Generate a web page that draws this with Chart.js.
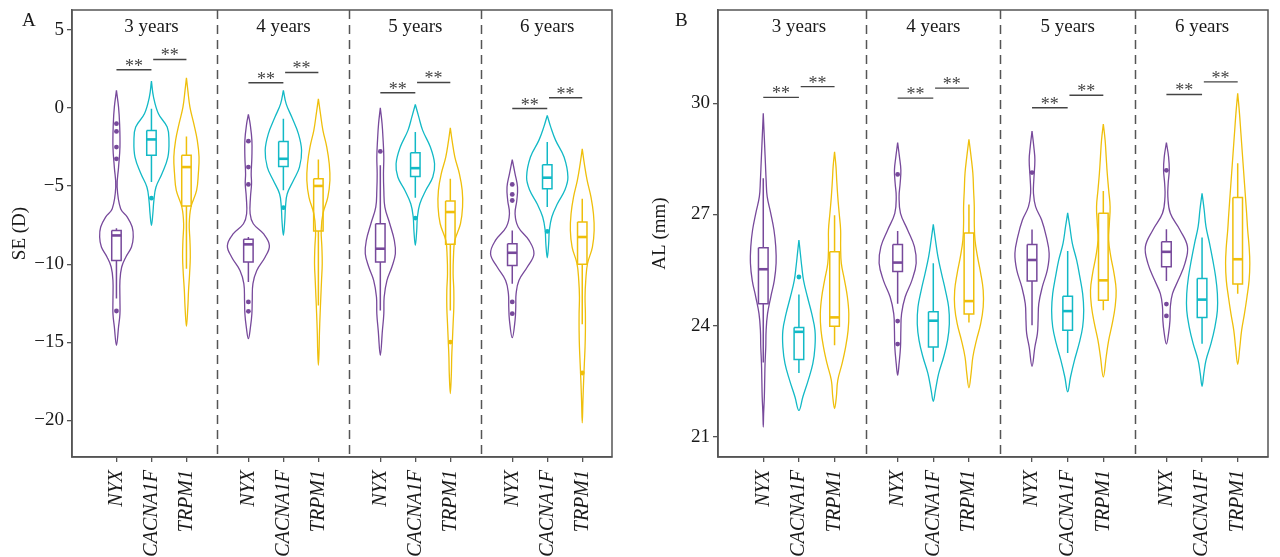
<!DOCTYPE html>
<html>
<head>
<meta charset="utf-8">
<script src="https://cdn.jsdelivr.net/npm/chart.js@4.4.1/dist/chart.umd.min.js"></script>
<style>
  html, body { margin: 0; padding: 0; background: #fff; }
  #wrap { position: relative; width: 1280px; height: 557px; }
  .panel { position: absolute; top: 0; width: 640px; height: 557px; }
</style>
</head>
<body>
<div id="wrap">
  <div class="panel" style="left:0"><canvas id="chartA" width="640" height="557"></canvas></div>
  <div class="panel" style="left:640px"><canvas id="chartB" width="640" height="557"></canvas></div>
</div>
<script>
// categorias
const genes = ['NYX', 'CACNA1F', 'TRPM1'];
const ages = ['3 years', '4 years', '5 years', '6 years'];

// ---- Panel A: SE (D) ---- orden: 3y NYX, CACNA1F, TRPM1, 4y NYX ...
const seTicks = [5, 0, -5, -10, -15, -20];
const seTop = [1.13, 1.72, 1.94, -0.41, 1.13, 0.59, 0.02, 0.23, -1.26, -3.31, -0.47, -2.61];
const seBottom = [-15.2, -7.52, -13.98, -14.77, -8.16, -16.48, -15.84, -8.8, -18.29, -14.71, -9.59, -20.17];
const seDensY = [
  [0.06, -1.0, -2.5, -3.8, -5.06, -6.45, -6.98, -7.62, -8.26, -8.9, -9.54, -10.18, -11.04, -12.32, -13.17, -14.02],
  [0.70, -0.37, -1.22, -2.07, -3.14, -4.21, -5.06, -5.92, -6.77],
  [1.13, 0.06, -1.0, -2.07, -3.14, -4.21, -5.27, -6.34, -7.41, -8.48, -9.54, -10.61, -11.68, -12.74],
  [-1.01, -2.07, -3.14, -4.21, -4.85, -5.70, -6.77, -7.41, -8.05, -8.8, -9.54, -10.4, -11.25, -12.32, -13.17, -14.02],
  [0.27, -0.58, -1.65, -2.71, -3.78, -4.63, -5.49, -6.34, -7.2],
  [-0.37, -1.43, -2.5, -3.57, -4.63, -5.70, -6.77, -7.84, -8.9, -9.97, -11.04, -12.1, -13.17, -14.45, -15.52],
  [-1.01, -2.07, -3.14, -4.21, -5.27, -6.34, -7.41, -8.48, -9.33, -10.18, -11.04, -12.1, -13.17, -14.24],
  [-0.58, -1.43, -2.5, -3.57, -4.42, -5.27, -6.13, -6.98, -7.84],
  [-2.07, -3.14, -4.21, -5.27, -6.34, -7.41, -8.48, -9.54, -10.61, -11.68, -12.74, -13.81, -14.88, -15.95, -17.01],
  [-4.21, -5.06, -5.92, -6.77, -7.62, -8.48, -9.33, -10.18, -11.04, -11.89, -12.74, -13.6],
  [-1.22, -2.07, -3.14, -4.42, -5.27, -6.13, -6.98, -7.84, -8.69],
  [-3.57, -4.63, -5.70, -6.77, -7.84, -8.9, -9.97, -11.04, -12.1, -13.17, -14.24, -15.31, -16.37, -17.44, -18.72]
];
const seDensW = [
  [0.06, 0.09, 0.1, 0.06, 0.02, 0.12, 0.31, 0.45, 0.48, 0.43, 0.27, 0.15, 0.1, 0.1, 0.1, 0.06],
  [0.06, 0.2, 0.45, 0.5, 0.47, 0.3, 0.13, 0.07, 0.04],
  [0.04, 0.1, 0.21, 0.31, 0.36, 0.34, 0.29, 0.13, 0.08, 0.1, 0.11, 0.09, 0.06, 0.04],
  [0.05, 0.1, 0.1, 0.08, 0.09, 0.06, 0.05, 0.14, 0.43, 0.6, 0.48, 0.24, 0.13, 0.11, 0.1, 0.06],
  [0.08, 0.24, 0.43, 0.52, 0.46, 0.29, 0.11, 0.06, 0.04],
  [0.06, 0.13, 0.24, 0.31, 0.33, 0.27, 0.13, 0.08, 0.1, 0.11, 0.09, 0.07, 0.05, 0.03, 0.02],
  [0.05, 0.08, 0.1, 0.09, 0.1, 0.13, 0.27, 0.4, 0.43, 0.33, 0.19, 0.11, 0.1, 0.06],
  [0.1, 0.21, 0.43, 0.55, 0.5, 0.3, 0.13, 0.06, 0.04],
  [0.05, 0.13, 0.26, 0.34, 0.35, 0.29, 0.13, 0.09, 0.08, 0.1, 0.1, 0.08, 0.06, 0.04, 0.03],
  [0.08, 0.15, 0.13, 0.08, 0.17, 0.48, 0.62, 0.43, 0.19, 0.11, 0.1, 0.08],
  [0.1, 0.24, 0.48, 0.59, 0.5, 0.29, 0.13, 0.06, 0.04],
  [0.06, 0.14, 0.25, 0.32, 0.34, 0.29, 0.15, 0.1, 0.08, 0.09, 0.09, 0.08, 0.06, 0.04, 0.02]
];
const seLo  = [-12.2, -4.74, -10.29, -11.14, -5.27, -12.64, -12.96, -5.74, -12.96, -11.25, -6.34, -13.85];
const seQ1  = [-9.76, -3.03, -6.28, -9.86, -3.74, -7.88, -9.86, -4.38, -8.73, -10.08, -5.17, -10.01];
const seMed = [-8.16, -2.01, -3.78, -8.73, -3.25, -4.99, -9.01, -3.85, -6.66, -9.27, -4.46, -8.26];
const seQ3  = [-7.84, -1.43, -3.03, -8.41, -2.14, -4.53, -7.41, -2.86, -5.96, -8.69, -3.63, -7.3];
const seHi  = [-7.7, -0.05, -1.82, -8.26, -0.69, -3.29, -3.67, -1.54, -4.53, -7.84, -2.18, -5.81];
const seOut = [
  [-1.0, -1.5, -2.5, -3.25, -13.0], [-5.77], [],
  [-2.12, -3.78, -4.89, -12.42, -13.02], [-6.38], [],
  [-2.78], [-7.05], [-14.99],
  [-4.89, -5.53, -5.92, -12.42, -13.17], [-7.9], [-16.97]
];
const seStar1 = [2.45, 1.62, 0.98, -0.03];
const seStar2 = [3.11, 2.28, 1.64, 0.66];

// ---- Panel B: AL (mm) ----
const alTicks = [30, 27, 24, 21];
const alTop = [29.73, 26.31, 28.69, 28.94, 26.73, 29.03, 29.25, 27.04, 29.44, 28.94, 27.57, 30.27];
const alBottom = [21.26, 21.71, 21.76, 22.66, 21.95, 22.32, 22.9, 22.21, 22.61, 23.5, 22.36, 22.95];
const alDensY = [
  [29.28, 28.83, 28.38, 27.93, 27.48, 27.03, 26.58, 26.13, 25.68, 25.22, 24.77, 24.32, 23.87, 23.42, 22.97, 22.52, 22.07, 21.62],
  [25.95, 25.59, 25.22, 24.77, 24.32, 23.87, 23.42, 22.97, 22.52, 22.07],
  [28.29, 27.93, 27.48, 27.03, 26.58, 26.13, 25.68, 25.22, 24.77, 24.32, 23.87, 23.42, 22.97, 22.52, 22.07],
  [28.56, 28.2, 27.84, 27.48, 27.03, 26.58, 26.13, 25.68, 25.22, 24.77, 24.32, 23.87, 23.42, 22.97],
  [26.31, 25.86, 25.41, 24.95, 24.5, 24.05, 23.6, 23.15, 22.7, 22.25],
  [28.56, 28.11, 27.66, 27.21, 26.76, 26.31, 25.86, 25.41, 24.95, 24.5, 24.05, 23.6, 23.15, 22.7],
  [28.83, 28.47, 27.93, 27.57, 27.21, 26.85, 26.4, 25.95, 25.5, 25.05, 24.59, 24.14, 23.78, 23.42],
  [26.67, 26.22, 25.77, 25.32, 24.86, 24.41, 23.96, 23.51, 23.06, 22.61],
  [29.01, 28.56, 28.11, 27.66, 27.21, 26.76, 26.31, 25.86, 25.41, 24.95, 24.5, 24.05, 23.6, 23.15],
  [28.56, 28.2, 27.84, 27.48, 27.03, 26.58, 26.13, 25.68, 25.22, 24.86, 24.5, 24.14, 23.78],
  [27.12, 26.67, 26.22, 25.77, 25.32, 24.86, 24.41, 23.96, 23.51, 23.06, 22.7],
  [29.73, 29.19, 28.65, 28.11, 27.57, 27.03, 26.58, 26.13, 25.68, 25.22, 24.77, 24.32, 23.87, 23.42]
];
const alDensW = [
  [0.02, 0.04, 0.06, 0.08, 0.11, 0.21, 0.3, 0.35, 0.36, 0.31, 0.21, 0.12, 0.08, 0.07, 0.05, 0.04, 0.03, 0.01],
  [0.04, 0.08, 0.13, 0.24, 0.36, 0.45, 0.45, 0.39, 0.26, 0.11],
  [0.04, 0.06, 0.09, 0.13, 0.17, 0.17, 0.19, 0.28, 0.36, 0.4, 0.38, 0.31, 0.21, 0.09, 0.05],
  [0.05, 0.09, 0.07, 0.04, 0.08, 0.28, 0.47, 0.52, 0.4, 0.21, 0.11, 0.09, 0.08, 0.04],
  [0.06, 0.13, 0.23, 0.34, 0.43, 0.45, 0.4, 0.29, 0.15, 0.06],
  [0.06, 0.11, 0.13, 0.15, 0.15, 0.17, 0.24, 0.33, 0.4, 0.4, 0.33, 0.21, 0.11, 0.06],
  [0.05, 0.08, 0.05, 0.04, 0.1, 0.27, 0.4, 0.48, 0.43, 0.29, 0.19, 0.17, 0.15, 0.08],
  [0.06, 0.13, 0.25, 0.34, 0.42, 0.45, 0.42, 0.32, 0.19, 0.08],
  [0.05, 0.08, 0.11, 0.15, 0.19, 0.17, 0.15, 0.21, 0.3, 0.36, 0.33, 0.25, 0.15, 0.08],
  [0.06, 0.08, 0.05, 0.04, 0.11, 0.38, 0.59, 0.52, 0.33, 0.17, 0.11, 0.1, 0.06],
  [0.06, 0.11, 0.21, 0.3, 0.38, 0.43, 0.43, 0.36, 0.25, 0.11, 0.05],
  [0.05, 0.09, 0.13, 0.17, 0.21, 0.25, 0.28, 0.32, 0.34, 0.32, 0.26, 0.19, 0.11, 0.06]
];
const alLo  = [23.0, 22.72, 23.47, 24.59, 23.02, 24.08, 24.01, 23.26, 24.41, 25.2, 23.51, 24.86];
const alQ1  = [24.59, 23.08, 23.98, 25.46, 23.42, 24.31, 25.2, 23.87, 24.68, 25.59, 24.22, 25.12];
const alMed = [25.52, 23.83, 24.22, 25.7, 24.13, 24.66, 25.77, 24.39, 25.22, 25.99, 24.7, 25.79];
const alQ3  = [26.1, 23.95, 25.99, 26.19, 24.37, 26.5, 26.19, 24.79, 27.03, 26.26, 25.27, 27.46];
const alHi  = [27.98, 24.84, 26.98, 26.55, 25.68, 27.27, 26.59, 26.01, 27.63, 26.6, 26.38, 28.38];
const alOut = [
  [], [25.31], [],
  [28.08, 24.12, 23.5], [], [],
  [28.13], [], [],
  [28.19, 24.58, 24.26], [], []
];
const alStar1 = [30.16, 30.14, 29.88, 30.24];
const alStar2 = [30.45, 30.41, 30.22, 30.58];

// estilo / disposición
const colors = ['#77499b', '#12b9c6', '#efbf0b'];
const FONT = '"Liberation Serif", "Times New Roman", serif';
const GROUP_STEP = 3.77;
const BOX_HALF = 0.135;
const xPos = i => Math.floor(i / 3) * GROUP_STEP + (i % 3);

function buildDatasets(d) {
  const sets = [];
  for (let i = 0; i < 12; i++) {
    const c = xPos(i), col = colors[i % 3];
    const ys = d.densY[i], ws = d.densW[i];
    // contorno del violín: bajando por la derecha, subiendo por la izquierda
    const outline = [{ x: c, y: d.top[i] }];
    ys.forEach((y, k) => outline.push({ x: c + ws[k], y: y }));
    outline.push({ x: c, y: d.bottom[i] });
    for (let k = ys.length - 1; k >= 0; k--) outline.push({ x: c - ws[k], y: ys[k] });
    outline.push({ x: c, y: d.top[i] });
    sets.push({ data: outline, borderColor: col, borderWidth: 1.3, tension: 0.4 });

    // caja + bigotes
    sets.push({
      data: [
        { x: c, y: d.hi[i] }, { x: c, y: d.q3[i] }, { x: c, y: null },
        { x: c - BOX_HALF, y: d.q3[i] }, { x: c + BOX_HALF, y: d.q3[i] },
        { x: c + BOX_HALF, y: d.q1[i] }, { x: c - BOX_HALF, y: d.q1[i] },
        { x: c - BOX_HALF, y: d.q3[i] }, { x: c, y: null },
        { x: c, y: d.q1[i] }, { x: c, y: d.lo[i] }
      ],
      borderColor: col, borderWidth: 1.5, tension: 0
    });
    // mediana
    sets.push({
      data: [{ x: c - BOX_HALF, y: d.med[i] }, { x: c + BOX_HALF, y: d.med[i] }],
      borderColor: col, borderWidth: 2.6, tension: 0
    });
    // atípicos
    if (d.out[i].length) {
      sets.push({
        data: d.out[i].map(y => ({ x: c, y: y })),
        showLine: false, pointRadius: 2.4, pointBackgroundColor: col,
        pointBorderWidth: 0, borderColor: col
      });
    }
  }
  // líneas de significancia
  for (let g = 0; g < 4; g++) {
    const c0 = xPos(g * 3);
    sets.push({ data: [{ x: c0, y: d.star1[g] }, { x: c0 + 1, y: d.star1[g] }], borderColor: '#444', borderWidth: 1.4, tension: 0 });
    sets.push({ data: [{ x: c0 + 1.05, y: d.star2[g] }, { x: c0 + 2, y: d.star2[g] }], borderColor: '#444', borderWidth: 1.4, tension: 0 });
  }
  return sets;
}

const deco = {
  id: 'deco',
  afterDraw(chart, args, opts) {
    const { ctx, chartArea: a, scales: { x, y } } = chart;
    ctx.save();
    ctx.strokeStyle = '#555';
    ctx.lineWidth = 1.5;
    ctx.strokeRect(a.left, a.top, a.right - a.left, a.bottom - a.top);
    // separadores punteados entre edades
    ctx.setLineDash([9, 6]);
    for (let g = 1; g < 4; g++) {
      const px = Math.round(x.getPixelForValue((xPos(g * 3 - 1) + xPos(g * 3)) / 2)) + 0.5;
      ctx.beginPath();
      ctx.moveTo(px, a.top);
      ctx.lineTo(px, a.bottom);
      ctx.stroke();
    }
    ctx.setLineDash([]);
    ctx.fillStyle = '#1a1a1a';
    ctx.textAlign = 'center';
    ctx.textBaseline = 'middle';
    ctx.font = '19px ' + FONT;
    ages.forEach((t, g) => ctx.fillText(t, x.getPixelForValue(xPos(g * 3 + 1)), a.top + 17));
    // asteriscos
    ctx.fillStyle = '#444';
    ctx.textBaseline = 'alphabetic';
    ctx.font = '18px ' + FONT;
    for (let g = 0; g < 4; g++) {
      const c0 = xPos(g * 3);
      ctx.fillText('**', x.getPixelForValue(c0 + 0.5), y.getPixelForValue(opts.star1[g]) + 2);
      ctx.fillText('**', x.getPixelForValue(c0 + 1.52), y.getPixelForValue(opts.star2[g]) + 2);
    }
    // letra del panel
    ctx.fillStyle = '#1a1a1a';
    ctx.textAlign = 'left';
    ctx.font = '19px ' + FONT;
    ctx.fillText(opts.letter, opts.letterX, 26);
    ctx.restore();
  }
};

function makeChart(id, d) {
  new Chart(document.getElementById(id), {
    type: 'line',
    data: { datasets: buildDatasets(d) },
    plugins: [deco],
    options: {
      responsive: false,
      animation: false,
      devicePixelRatio: 1,
      events: [],
      layout: { padding: { left: 0, right: d.padRight, top: 10, bottom: 0 } },
      elements: { point: { radius: 0, hoverRadius: 0 }, line: { fill: false } },
      plugins: {
        legend: { display: false },
        tooltip: { enabled: false },
        deco: { letter: d.letter, letterX: d.letterX, star1: d.star1, star2: d.star2 }
      },
      scales: {
        x: {
          type: 'linear',
          min: -1.27,
          max: 14.16,
          afterBuildTicks: s => { s.ticks = genes.concat(genes, genes, genes).map((g, i) => ({ value: xPos(i) })); },
          afterFit: s => { s.height = 100; s.paddingLeft = 0; s.paddingRight = 0; },
          grid: { drawOnChartArea: false, drawTicks: true, tickLength: 5, color: '#555', lineWidth: 1.3 },
          border: { display: true, color: '#555', width: 1.5 },
          ticks: {
            autoSkip: false,
            minRotation: 90,
            maxRotation: 90,
            padding: 8,
            color: '#1a1a1a',
            font: { family: FONT, size: 20, style: 'italic' },
            callback: (v, i) => genes[i % 3]
          }
        },
        y: {
          min: d.yMin,
          max: d.yMax,
          afterBuildTicks: s => { s.ticks = d.ticks.map(v => ({ value: v })); },
          afterFit: s => { s.width = d.yWidth; s.paddingTop = 0; s.paddingBottom = 0; },
          grid: { drawOnChartArea: false, drawTicks: true, tickLength: 5, color: '#555', lineWidth: 1.3 },
          border: { display: true, color: '#555', width: 1.5 },
          title: { display: true, text: d.title, color: '#1a1a1a', font: { family: FONT, size: 19 }, padding: { top: 9, bottom: 0 } },
          ticks: {
            padding: 3,
            color: '#1a1a1a',
            font: { family: FONT, size: 19 },
            callback: v => String(v).replace('-', '\u2212')
          }
        }
      }
    }
  });
}

makeChart('chartA', {
  letter: 'A', letterX: 22, title: 'SE (D)', yMin: -22.35, yMax: 6.28, ticks: seTicks,
  yWidth: 72, padRight: 28,
  top: seTop, bottom: seBottom, densY: seDensY, densW: seDensW,
  lo: seLo, q1: seQ1, med: seMed, q3: seQ3, hi: seHi, out: seOut,
  star1: seStar1, star2: seStar2
});
makeChart('chartB', {
  letter: 'B', letterX: 35, title: 'AL (mm)', yMin: 20.45, yMax: 32.52, ticks: alTicks,
  yWidth: 78, padRight: 12,
  top: alTop, bottom: alBottom, densY: alDensY, densW: alDensW,
  lo: alLo, q1: alQ1, med: alMed, q3: alQ3, hi: alHi, out: alOut,
  star1: alStar1, star2: alStar2
});
</script>
</body>
</html>
